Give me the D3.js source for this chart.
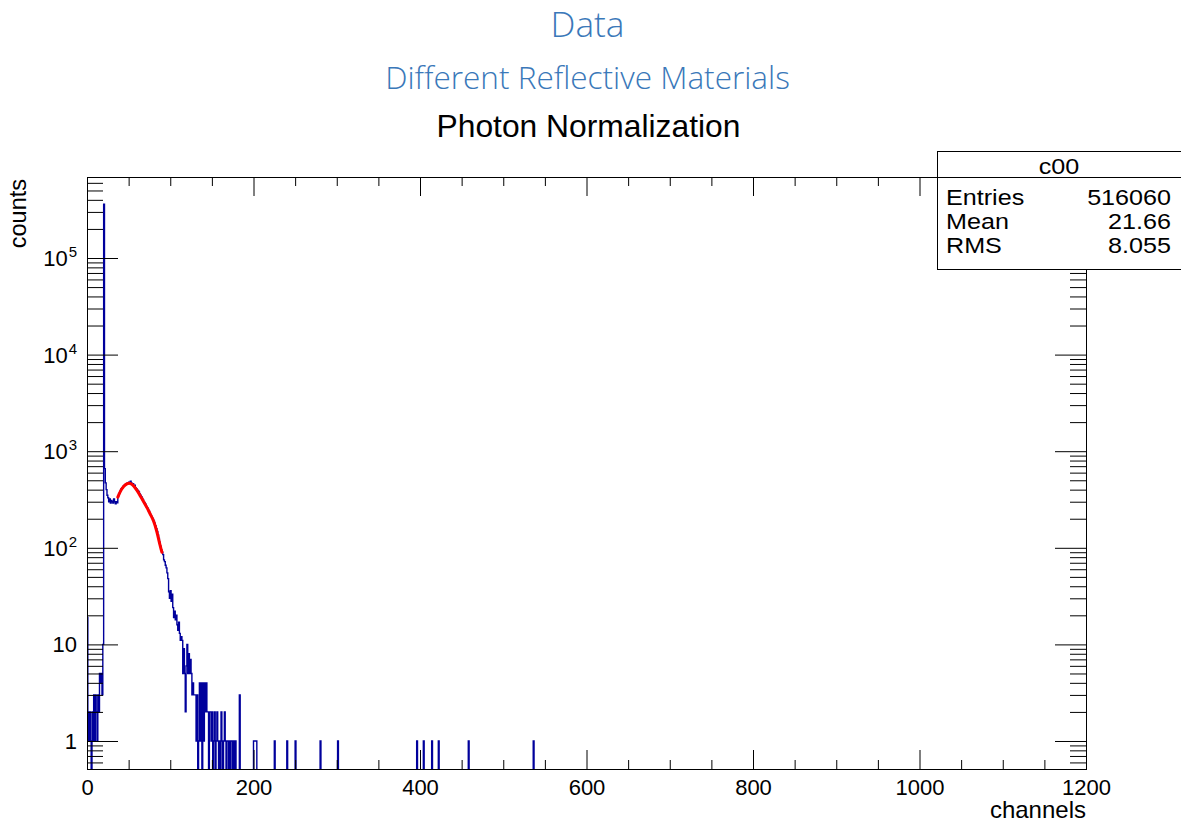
<!DOCTYPE html>
<html><head><meta charset="utf-8">
<script src="https://cdn.jsdelivr.net/npm/d3@7"></script>
<style>body{margin:0;background:#fff;} svg{display:block}</style>
</head><body>
<svg id="chart" width="1181" height="824"></svg>
<script>
// ---------------- data ----------------
const binWidth = 1;              // channels per bin
const nBins = 1200;
const lowStart = 0;              // channels 0..20 (includes main peak)
const lowCounts = [19,2,1,2,1,0,2,1,3,1,3,2,1,3,2,5,4,5,3,10,360000];
const shoulderStart = 21;        // channels 21..36
const shoulderCounts = [660,470,400,350,330,300,320,290,310,300,290,320,300,285,300,292];
const bumpStart = 37;            // channels 37..90
const bumpCounts = [340,362,372,392,410,418,432,440,448,452,458,465,470,478,462,488,468,455,462,436,
  445,420,410,398,390,378,362,350,338,325,312,300,292,282,268,260,250,242,232,222,
  212,204,196,188,180,168,158,148,136,125,114,104,95,90];
const tailStart = 91;            // channels 91..183
const tailCounts = [85,75,72,66,62,55,48,35,30,36,28,33,24,19,22,18,20,16,14,17,
  13,11,12,11,5,9,5,2,6,10,5,8,5,7,5,3,4,3,3,3,
  1,3,0,1,4,1,4,0,4,1,4,2,4,2,2,0,2,2,1,2,
  0,1,2,0,1,2,1,0,1,0,2,1,0,1,2,1,0,1,1,0,
  1,0,1,1,0,1,0,1,0,0,0,0,3];
const sparseChannels = [200,201,202,203,225,240,250,280,301,396,404,414,422,458,536];
const sparseCounts   = [1,1,1,1,1,1,1,1,1,1,1,1,1,1,1];

// fit curve (red)
const fitChannels = [37,40,44,48,51,54,56,60,64,68,72,76,80,84,88,90];
const fitValues   = [335,385,435,462,470,455,438,395,345,300,262,222,192,148,103,90];

const xMajorTicks = [0,200,400,600,800,1000,1200];
const xMinorStep = 50;
const yDecades = [1,10,100,1000,10000,100000];
const yDecadeBase = ["1","10","10","10","10","10"];
const yDecadeExp  = ["","","2","3","4","5"];

const titleMain = "Data";
const titleSub = "Different Reflective Materials";
const histTitle = "Photon Normalization";
const xTitle = "channels";
const yTitle = "counts";
const statsName = "c00";
const statsLabels = ["Entries","Mean","RMS"];
const statsValues = ["516060","21.66","8.055"];

// ---------------- build bins ----------------
const counts = new Array(nBins).fill(0);
[[lowStart,lowCounts],[shoulderStart,shoulderCounts],[bumpStart,bumpCounts],[tailStart,tailCounts]]
  .forEach(([s,arr]) => arr.forEach((c,i) => counts[s+i] = c));
sparseChannels.forEach((ch,i) => counts[ch] = sparseCounts[i]);

// ---------------- layout ----------------
const L = 87, R = 1086, T = 177, B = 769;
const svg = d3.select("#chart");
const x = d3.scaleLinear().domain([0,1200]).range([L,R]);
const y = d3.scaleLog().domain([0.513, 689500]).range([B,T]);
const FONT = "'Liberation Sans', Arial, Helvetica, sans-serif";

svg.append("rect").attr("width",1181).attr("height",824).attr("fill","#fff");

// titles
function fitText(sel, width){
  const w = sel.node().getComputedTextLength();
  const fs = parseFloat(sel.attr("font-size"));
  sel.attr("font-size", fs*width/w);
}
const t1 = svg.append("text").attr("x",587.5).attr("y",37).attr("text-anchor","middle")
  .attr("font-family","'Open Sans', sans-serif").attr("font-weight",300).attr("font-size",36)
  .attr("fill","#3a78b9").text(titleMain);
fitText(t1, 74);
const t2 = svg.append("text").attr("x",587.5).attr("y",89).attr("text-anchor","middle")
  .attr("font-family","'Open Sans', sans-serif").attr("font-weight",300).attr("font-size",28)
  .attr("fill","#3a78b9").text(titleSub);
fitText(t2, 405);
const t3 = svg.append("text").attr("x",588.5).attr("y",137).attr("text-anchor","middle")
  .attr("font-family",FONT).attr("font-size",23).attr("fill","#000").text(histTitle);
fitText(t3, 304);

// clip
svg.append("clipPath").attr("id","plotclip").append("rect")
  .attr("x",L).attr("y",T).attr("width",R-L).attr("height",B-T);

// histogram outline (ROOT style)
const pts = [{ch:0,c:0}];
counts.forEach((c,i)=>pts.push({ch:i*binWidth,c}));
pts.push({ch:nBins*binWidth,c:0});
const yv = c => c>0 ? y(c) : B+3;
const histLine = d3.line().x(d=>x(d.ch)).y(d=>yv(d.c)).curve(d3.curveStepAfter);
svg.append("path").attr("clip-path","url(#plotclip)")
  .attr("d",histLine(pts)).attr("fill","none").attr("stroke","#00009c").attr("stroke-width",1.4);

// fit curve
const fitLine = d3.line().x((d,i)=>x(fitChannels[i])).y((d,i)=>y(fitValues[i])).curve(d3.curveBasis);
svg.append("path").attr("clip-path","url(#plotclip)")
  .attr("d",fitLine(fitValues)).attr("fill","none").attr("stroke","#ff0000").attr("stroke-width",3)
  .attr("stroke-linecap","round");

// axes
const xMinor = d3.range(0,1200+1,xMinorStep).filter(v=>v%200!==0);
const yMinor = [];
[-1,0,1,2,3,4,5].forEach(e=>{ for(let k=2;k<=9;k++){ const v=k*Math.pow(10,e); if(v>=0.513 && v<=689500) yMinor.push(v);} });

function styleAxis(g){ g.select(".domain").remove(); g.selectAll("line").attr("stroke","#000"); }

svg.append("g").attr("transform",`translate(0,${B})`)
  .call(d3.axisBottom(x).tickValues(xMajorTicks).tickSize(-19).tickSizeOuter(0).tickPadding(10).tickFormat(d3.format("d")))
  .call(styleAxis)
  .call(g=>g.selectAll("text").attr("font-family",FONT).attr("font-size",22).attr("fill","#000"));
svg.append("g").attr("transform",`translate(0,${B})`)
  .call(d3.axisBottom(x).tickValues(xMinor).tickSize(-9).tickSizeOuter(0).tickFormat(""))
  .call(styleAxis);
svg.append("g").attr("transform",`translate(0,${T})`)
  .call(d3.axisTop(x).tickValues(xMajorTicks).tickSize(-19).tickSizeOuter(0).tickFormat(""))
  .call(styleAxis);
svg.append("g").attr("transform",`translate(0,${T})`)
  .call(d3.axisTop(x).tickValues(xMinor).tickSize(-9).tickSizeOuter(0).tickFormat(""))
  .call(styleAxis);

svg.append("g").attr("transform",`translate(${L},0)`)
  .call(d3.axisLeft(y).tickValues(yDecades).tickSize(-31).tickSizeOuter(0).tickFormat(""))
  .call(styleAxis);
svg.append("g").attr("transform",`translate(${L},0)`)
  .call(d3.axisLeft(y).tickValues(yMinor).tickSize(-16).tickSizeOuter(0).tickFormat(""))
  .call(styleAxis);
svg.append("g").attr("transform",`translate(${R},0)`)
  .call(d3.axisRight(y).tickValues(yDecades).tickSize(-31).tickSizeOuter(0).tickFormat(""))
  .call(styleAxis);
svg.append("g").attr("transform",`translate(${R},0)`)
  .call(d3.axisRight(y).tickValues(yMinor).tickSize(-16).tickSizeOuter(0).tickFormat(""))
  .call(styleAxis);

// y tick labels with superscripts
yDecades.forEach((v,i)=>{
  const t = svg.append("text").attr("x",77).attr("y",y(v)+8).attr("text-anchor","end")
    .attr("font-family",FONT).attr("font-size",22).attr("fill","#000");
  t.append("tspan").text(yDecadeBase[i]);
  if(yDecadeExp[i]) t.append("tspan").attr("font-size",15).attr("dx",1).attr("dy",-9).text(yDecadeExp[i]);
});

// frame
svg.append("rect").attr("x",L+0.5).attr("y",T+0.5).attr("width",R-L).attr("height",B-T)
  .attr("fill","none").attr("stroke","#000").attr("stroke-width",1);

// axis titles
svg.append("text").attr("x",R).attr("y",818).attr("text-anchor","end")
  .attr("font-family",FONT).attr("font-size",24).attr("fill","#000").text(xTitle);
svg.append("text").attr("transform",`translate(26,179) rotate(-90)`).attr("text-anchor","end")
  .attr("font-family",FONT).attr("font-size",23.5).attr("fill","#000").text(yTitle);

// stats box
const sb = svg.append("g");
sb.append("rect").attr("x",937.5).attr("y",151.5).attr("width",260).attr("height",118)
  .attr("fill","#fff").attr("stroke","#000").attr("stroke-width",1);
sb.append("line").attr("x1",937.5).attr("x2",1200).attr("y1",177.5).attr("y2",177.5).attr("stroke","#000");
const SX = 1.17;
sb.append("text").attr("transform",`translate(1059,174) scale(${SX},1)`).attr("text-anchor","middle")
  .attr("font-family",FONT).attr("font-size",21.5).text(statsName);
statsLabels.forEach((lab,i)=>{
  const yy = 204.5 + i*24;
  sb.append("text").attr("transform",`translate(946,${yy}) scale(${SX},1)`)
    .attr("font-family",FONT).attr("font-size",21.5).text(lab);
  sb.append("text").attr("transform",`translate(1171,${yy}) scale(${SX},1)`).attr("text-anchor","end")
    .attr("font-family",FONT).attr("font-size",21.5).text(statsValues[i]);
});
</script>
</body></html>
